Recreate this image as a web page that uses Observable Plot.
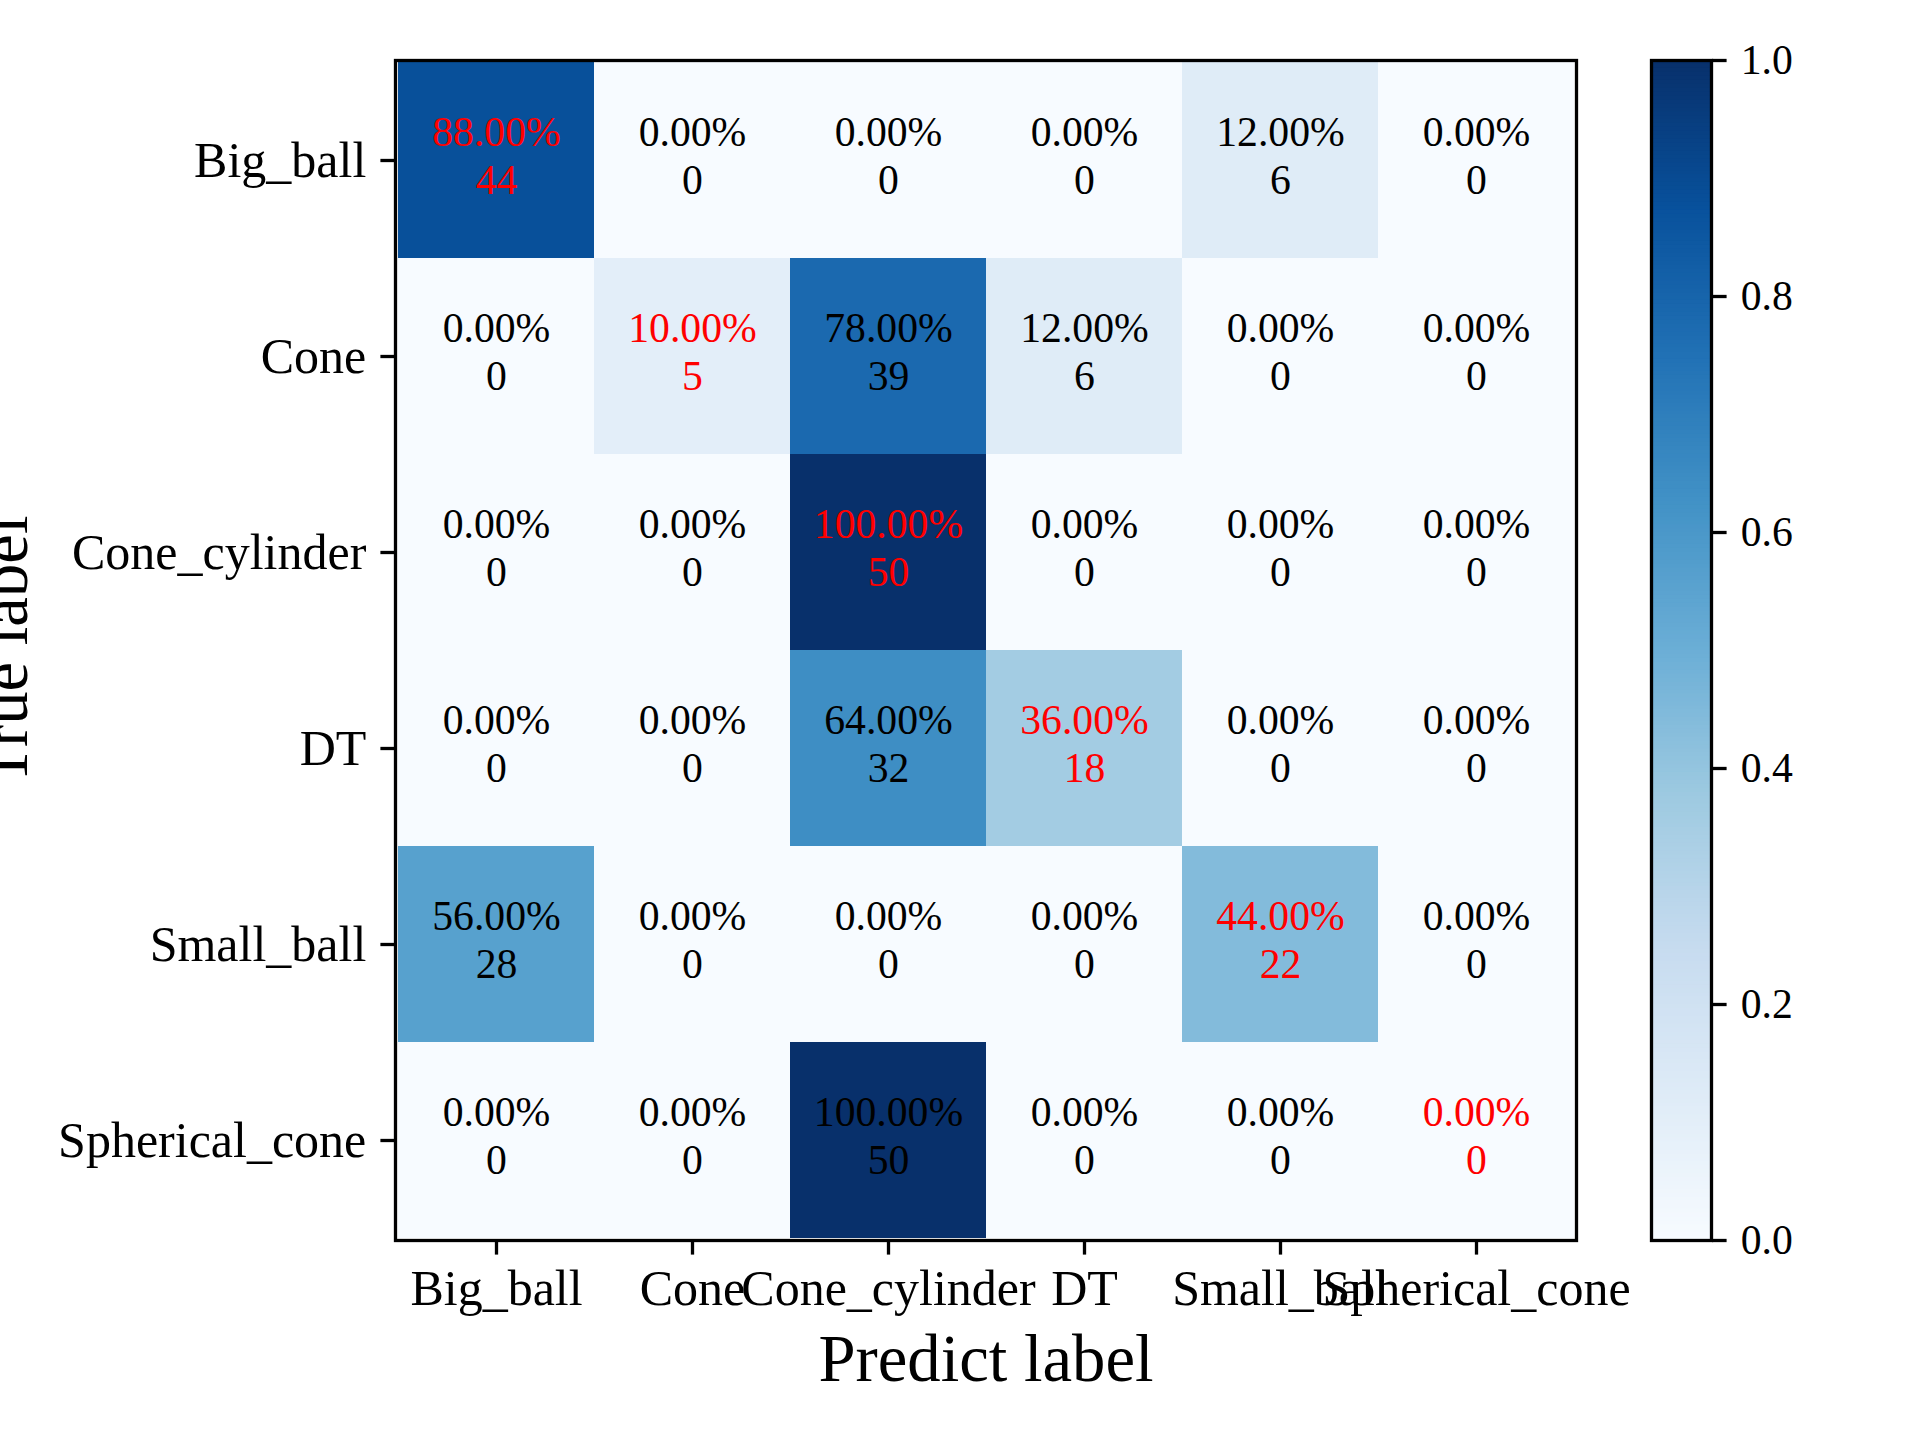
<!DOCTYPE html>
<html><head><meta charset="utf-8">
<script src="https://cdn.jsdelivr.net/npm/d3@7"></script>
<script src="https://cdn.jsdelivr.net/npm/@observablehq/plot@0.6"></script>
<style>
html,body{margin:0;padding:0;background:#fff;}
#wrap{position:relative;width:1920px;height:1440px;overflow:hidden;background:#fff;}
#wrap svg{position:absolute;top:0;}
</style></head><body><div id="wrap"></div>
<script>
const trueLabels = ["Big_ball","Cone","Cone_cylinder","DT","Small_ball","Spherical_cone"];
const predLabels = ["Big_ball","Cone","Cone_cylinder","DT","Small_ball","Spherical_cone"];
const counts = [
  [44,0,0,0,6,0],
  [0,5,39,6,0,0],
  [0,0,50,0,0,0],
  [0,0,32,18,0,0],
  [28,0,0,0,22,0],
  [0,0,50,0,0,0]
];
const colorbarTicks = [0,0.2,0.4,0.6,0.8,1.0];

const FONT = "'Liberation Serif','Times New Roman',serif";
const BLUES = ["#f7fbff","#deebf7","#c6dbef","#9ecae1","#6baed6","#4292c6","#2171b5","#08519c","#08306b"];
const colorScale = {type:"linear", domain: BLUES.map((_, i) => i/(BLUES.length-1)), range: BLUES, interpolate: "rgb"};

const cells = [];
counts.forEach((row, i) => {
  const tot = d3.sum(row);
  row.forEach((c, j) => cells.push({t: trueLabels[i], p: predLabels[j], count: c, frac: c/tot, diag: i === j}));
});
const cellText = d => (d.frac*100).toFixed(2) + "%\n" + d.count;

const main = Plot.plot({
  width: 1920, height: 1440,
  marginLeft: 395, marginRight: 344, marginTop: 60, marginBottom: 200,
  style: {fontFamily: FONT, background: "transparent", color: "black", overflow: "visible"},
  x: {type: "band", domain: predLabels, padding: 0, label: null, axis: null},
  y: {type: "band", domain: trueLabels, padding: 0, label: null, axis: null},
  color: colorScale,
  marks: [
    Plot.cell(cells, {x: "p", y: "t", fill: "frac", inset: 0}),
    Plot.text(cells, {filter: d => !d.diag, x: "p", y: "t", text: cellText, fill: "black", fontSize: 41.7, lineHeight: 1.15, dy: -6}),
    Plot.text(cells, {filter: d => d.diag, x: "p", y: "t", text: cellText, fill: "red", fontSize: 41.7, lineHeight: 1.15, dy: -6}),
    Plot.frame({stroke: "black", strokeWidth: 3.3}),
    Plot.axisX({anchor: "bottom", tickSize: 14.6, tickPadding: 14.6, fontSize: 50, strokeWidth: 3.3, label: null, fill: "black"}),
    Plot.axisY({anchor: "left", tickSize: 14.6, tickPadding: 14.6, fontSize: 50, strokeWidth: 3.3, label: null, fill: "black"}),
    Plot.text(["Predict label"], {text: d => d, frameAnchor: "bottom", dy: 140, lineAnchor: "bottom", fontSize: 66.7, fill: "black"}),
    Plot.text(["True label"], {text: d => d, frameAnchor: "left", dx: -369, rotate: -90, textAnchor: "middle", lineAnchor: "bottom", fontSize: 66.7, fill: "black"})
  ]
});
main.style.left = "0px";

const N = 300;
const stops = d3.range(N).map(i => i / N);
const cbar = Plot.plot({
  width: 280, height: 1440,
  marginLeft: 11, marginRight: 209, marginTop: 60, marginBottom: 200,
  style: {fontFamily: FONT, background: "transparent", color: "black", overflow: "visible"},
  x: {domain: [0, 1], axis: null},
  y: {domain: [0, 1], axis: null},
  color: colorScale,
  marks: [
    Plot.rect(stops, {x1: () => 0, x2: () => 1, y1: d => d, y2: d => Math.min(1, d + 1/N + 0.002), fill: d => d + 0.5/N}),
    Plot.frame({stroke: "black", strokeWidth: 3.3}),
    Plot.axisY(colorbarTicks, {anchor: "right", tickSize: 14.6, tickPadding: 14.6, tickFormat: d3.format(".1f"), fontSize: 41.7, strokeWidth: 3.3, label: null, fill: "black"})
  ]
});
cbar.style.left = "1640px";

const wrap = document.getElementById("wrap");
wrap.appendChild(main);
wrap.appendChild(cbar);
</script>
</body></html>
